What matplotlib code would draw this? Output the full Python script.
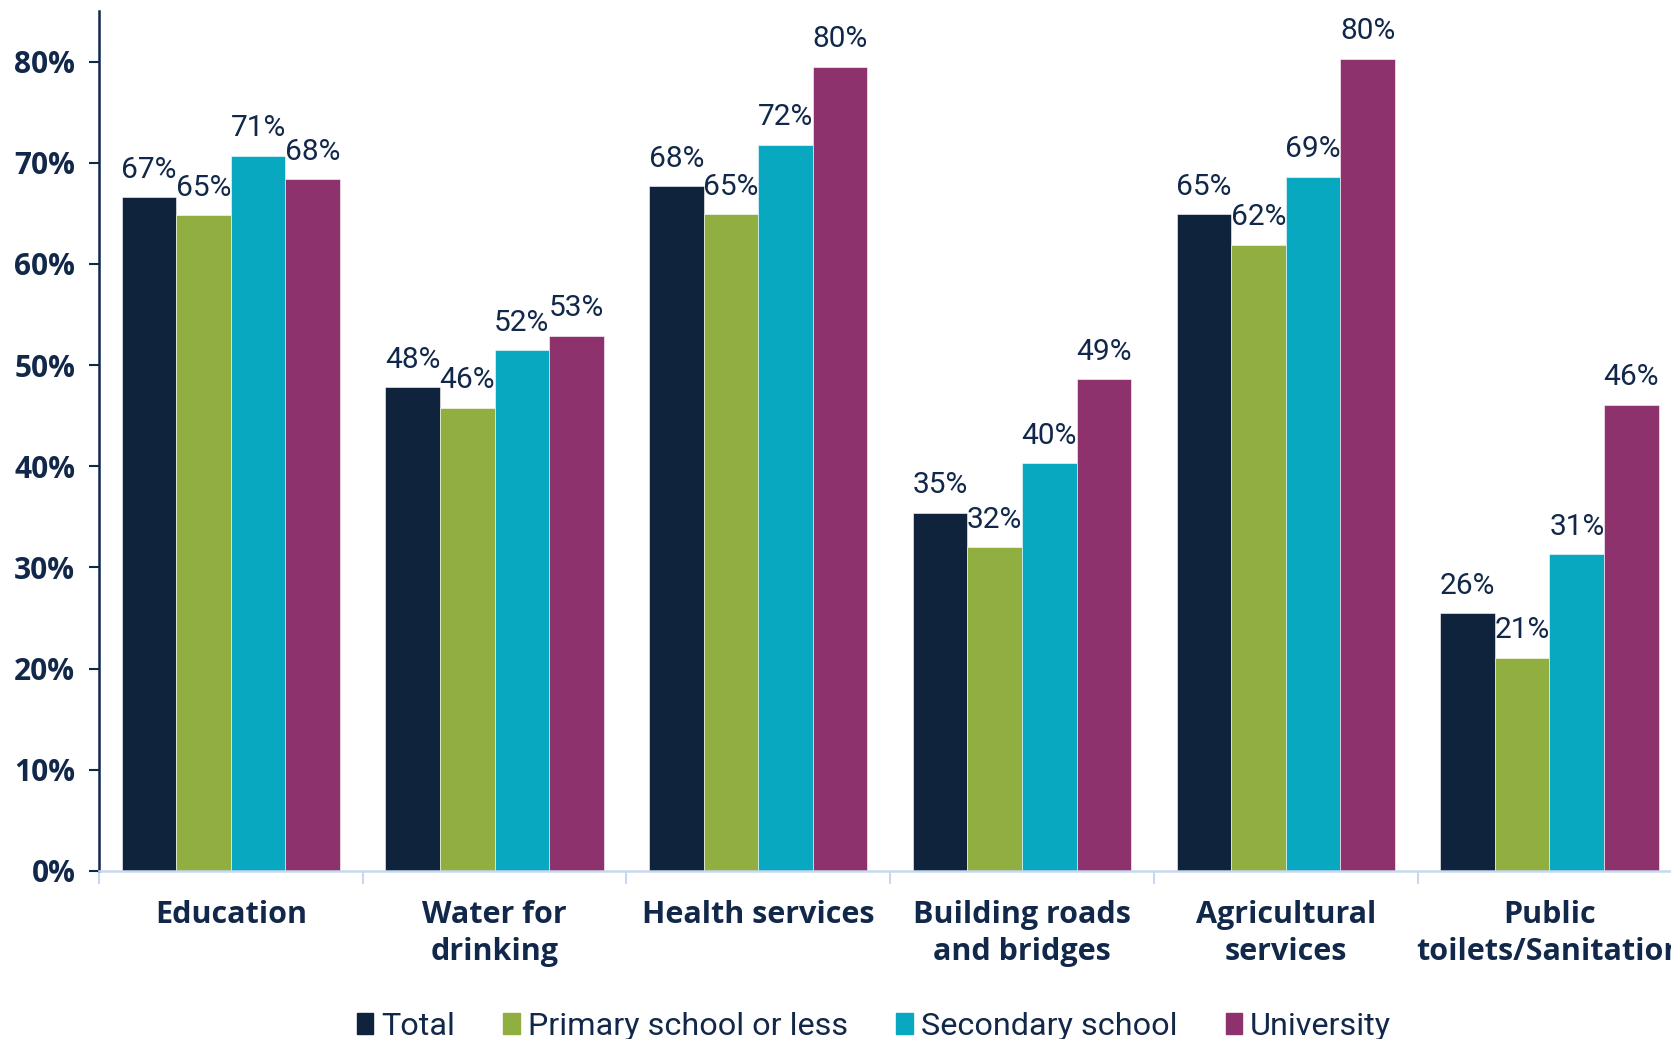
import numpy as np
import matplotlib
matplotlib.use('Agg')
import matplotlib.pyplot as plt
from matplotlib.patches import Rectangle

# =======  DATA  ======= #
categories = ['Education', 'Water for\ndrinking', 'Health services',
              'Building roads\nand bridges', 'Agricultural\nservices',
              'Public\ntoilets/Sanitation']
series = ['Total', 'Primary school or less', 'Secondary school', 'University']
total = [66.6, 47.8, 67.7, 35.4, 64.9, 25.5]
primary = [64.8, 45.8, 64.9, 32.0, 61.9, 21.1]
secondary = [70.7, 51.5, 71.8, 40.3, 68.6, 31.3]
university = [68.4, 52.9, 79.5, 48.6, 80.3, 46.1]
yticks = [0, 10, 20, 30, 40, 50, 60, 70, 80]

colors = ['#0F233C', '#91AF41', '#08A8C0', '#8E326E']
text_col = '#12284A'

# =======  PLOT  ======= #
fig = plt.figure(figsize=(16.71, 10.39), dpi=100)
ax = fig.add_axes([0.0592, 0.1617, 0.947, 0.8277])

x = np.arange(len(categories))
w = 0.207
values = [total, primary, secondary, university]
for i, vals in enumerate(values):
    pos = x + (i - 1.5) * w
    ax.bar(pos, vals, width=w, color=colors[i], edgecolor='white',
           linewidth=0.4, label=series[i])
    for px, v in zip(pos, vals):
        ax.annotate(str(int(round(v))) + '%', (px, v), xytext=(0, 14),
                    textcoords='offset points', ha='center', va='baseline',
                    fontsize=21.5, color=text_col, family='Roboto')

ax.set_xlim(-0.5, 5.5)
ax.set_ylim(0, 85)
ax.set_yticks(yticks)
ax.set_yticklabels([str(t) + '%' for t in yticks], fontsize=21.5,
                   fontweight='bold', color=text_col, family='Open Sans')
ax.tick_params(axis='y', length=7, width=1.5, color=text_col, pad=10)

ax.set_xticks(x)
ax.set_xticklabels(categories, fontsize=22, fontweight='bold',
                   color=text_col, family='Open Sans', linespacing=1.3)
ax.tick_params(axis='x', which='major', length=0, pad=21)
ax.set_xticks(np.arange(-0.5, 6.0, 1.0), minor=True)
ax.tick_params(axis='x', which='minor', length=9, width=1.5,
               color='#C6D9F0')

for s in ['top', 'right']:
    ax.spines[s].set_visible(False)
ax.spines['left'].set_color(text_col)
ax.spines['left'].set_linewidth(1.8)
ax.spines['bottom'].set_color('#C6D9F0')
ax.spines['bottom'].set_linewidth(1.8)

handles = [Rectangle((0, 0), 1, 1, color=c) for c in colors]
leg = fig.legend(handles, series, loc='center', bbox_to_anchor=(0.523, 0.012),
                 ncol=4, frameon=False, handlelength=0.5,
                 handleheight=0.65, handletextpad=0.25, columnspacing=1.5,
                 prop={'family': 'Roboto', 'size': 23.3})
for t in leg.get_texts():
    t.set_color(text_col)

fig.savefig('out.png', dpi=100)
